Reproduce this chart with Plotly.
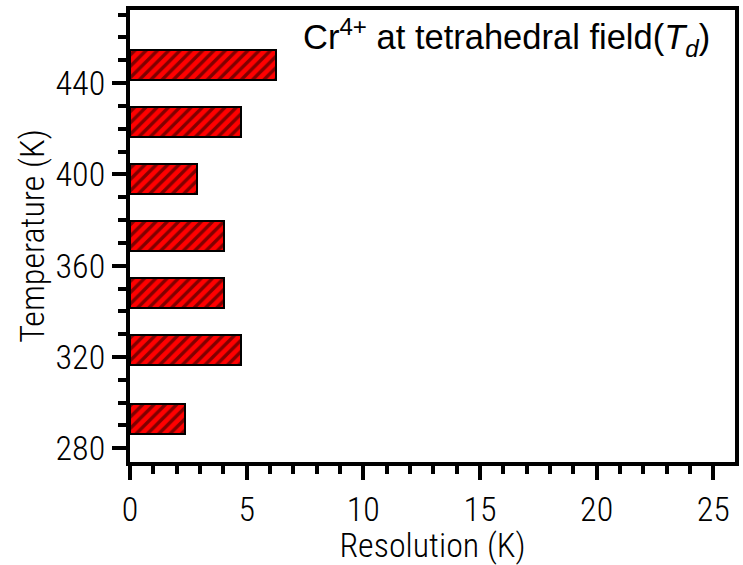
import plotly.graph_objects as go

temperatures = [293, 323, 348, 373, 398, 423, 448]
resolution = [2.34, 4.75, 4.04, 4.01, 2.88, 4.75, 6.24]
x_ticks = [0, 5, 10, 15, 20, 25]
y_ticks = [280, 320, 360, 400, 440]

narrow = "Liberation Sans Narrow, Arial Narrow, Roboto Condensed, sans-serif"

fig = go.Figure()
fig.add_trace(go.Bar(
    x=resolution, y=temperatures, orientation="h", width=13.2,
    marker=dict(color="#ff0000", line=dict(color="black", width=2),
                pattern=dict(shape="/", fgcolor="black", bgcolor="#ff0000",
                             size=8, solidity=0.42)),
    showlegend=False,
))

axis_common = dict(showline=True, linecolor="black", linewidth=4, mirror=True,
                   ticks="outside", tickcolor="black", tickwidth=3.5, ticklen=14,
                   showgrid=False, zeroline=False,
                   tickfont=dict(family=narrow, size=34, color="black", weight=300))

fig.update_xaxes(range=[0, 25.93], tickvals=x_ticks, ticktext=[str(v) for v in x_ticks],
                 minor=dict(ticks="outside", dtick=1, tick0=0, ticklen=8, tickwidth=3.5, tickcolor="black"),
                 title=dict(text="Resolution (K)", font=dict(family=narrow, size=34, color="black", weight=300), standoff=0),
                 **axis_common)
fig.update_yaxes(range=[274, 472], tickvals=y_ticks, ticktext=[str(v) for v in y_ticks],
                 minor=dict(ticks="outside", dtick=10, tick0=280, ticklen=8, tickwidth=3.5, tickcolor="black"),
                 title=dict(text="Temperature (K)", font=dict(family=narrow, size=34, color="black", weight=300), standoff=2),
                 **axis_common)

fig.add_annotation(text="Cr<sup>4+</sup> at tetrahedral field(<i>T</i><sub><i>d</i></sub>)",
                   xref="paper", yref="paper", x=0.962, y=0.998, xanchor="right", yanchor="top",
                   showarrow=False, font=dict(family="Liberation Sans, Arial, sans-serif", size=34.5, color="black"))

fig.update_layout(width=743, height=565, margin=dict(l=130, r=4, t=10, b=103),
                  plot_bgcolor="white", paper_bgcolor="white", bargap=0)

fig.write_html("out.html")
